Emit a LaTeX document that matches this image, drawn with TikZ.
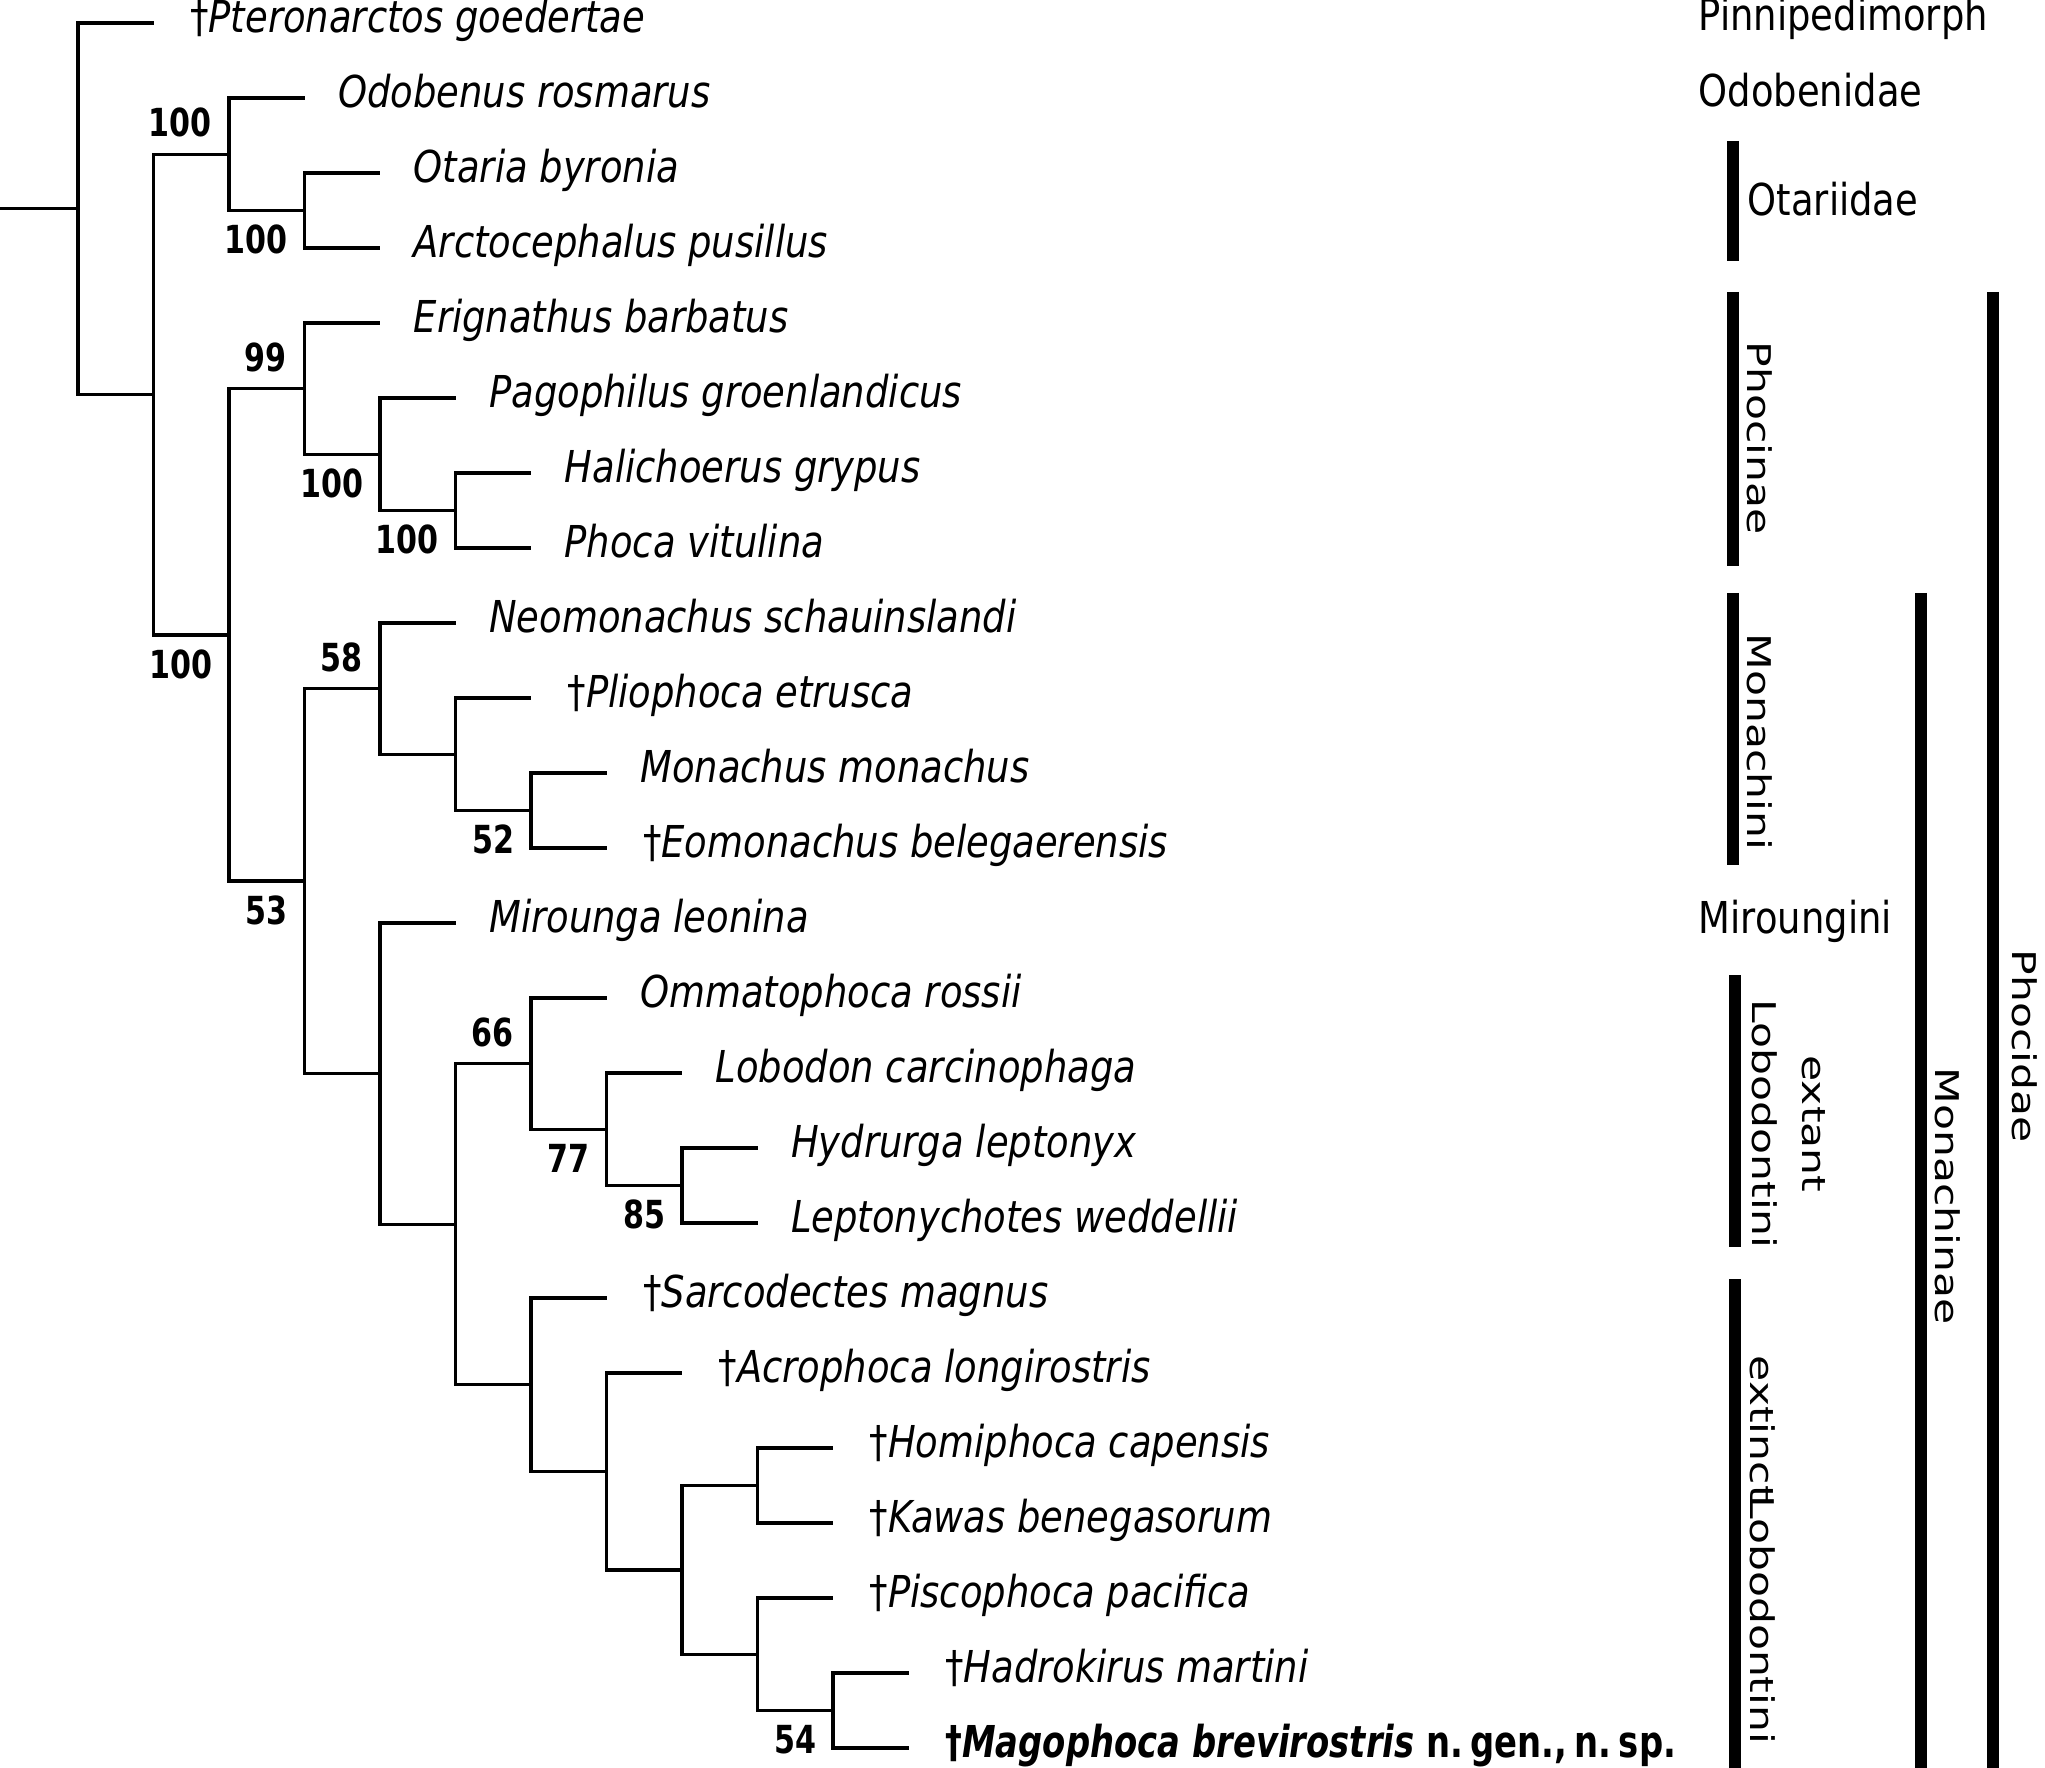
\documentclass[tikz,border=0pt]{standalone}
\usepackage{fontspec}
\setmainfont{DejaVu Sans}[FakeStretch=0.84]
\newfontfamily\cladefont{DejaVu Sans}[FakeStretch=1.30]
\newfontfamily\suppfont{DejaVu Sans}[FakeStretch=0.78]
\newfontfamily\newspfont{DejaVu Sans}[FakeStretch=0.77]
\usetikzlibrary{positioning}

\newcommand{\fossil}{{\upshape †}}

\tikzset{
  branch/.style={line width=0.95pt},
  taxon/.style={anchor=west, inner sep=0pt, font=\fontsize{12.5}{15}\selectfont\itshape,
    text height=1.6ex, text depth=0.6ex},
  supp/.style={inner sep=0pt, font=\suppfont\fontsize{11}{12}\selectfont\bfseries},
  cladebar/.style={line width=0.12cm},
  clade/.style={anchor=west, inner sep=0pt, font=\fontsize{12.5}{15}\selectfont,
    text height=1.6ex, text depth=0.6ex},
  vclade/.style={rotate=-90, inner sep=0pt, align=center,
    font=\cladefont\fontsize{9.3}{14.4}\selectfont}
}

\begin{document}
\begin{tikzpicture}
\useasboundingbox (0,0) rectangle (20.45,-17.68);

\begin{scope}[shift={(0.78cm,-0.23cm)}, x=0.755cm, y=-0.75cm]
  % tips
  \coordinate (t0) at (1,0);
  \coordinate (t1) at (3,1);
  \coordinate (t2) at (4,2);
  \coordinate (t3) at (4,3);
  \coordinate (t4) at (4,4);
  \coordinate (t5) at (5,5);
  \coordinate (t6) at (6,6);
  \coordinate (t7) at (6,7);
  \coordinate (t8) at (5,8);
  \coordinate (t9) at (6,9);
  \coordinate (t10) at (7,10);
  \coordinate (t11) at (7,11);
  \coordinate (t12) at (5,12);
  \coordinate (t13) at (7,13);
  \coordinate (t14) at (8,14);
  \coordinate (t15) at (9,15);
  \coordinate (t16) at (9,16);
  \coordinate (t17) at (7,17);
  \coordinate (t18) at (8,18);
  \coordinate (t19) at (10,19);
  \coordinate (t20) at (10,20);
  \coordinate (t21) at (10,21);
  \coordinate (t22) at (11,22);
  \coordinate (t23) at (11,23);
  % internal nodes
  \coordinate (base) at (-1.04,2.4771);
  \coordinate (n0) at (0,2.4771);
  \coordinate (nA) at (1,4.9541);
  \coordinate (nB) at (2,1.75);
  \coordinate (nOta) at (3,2.5);
  \coordinate (nPhocidae) at (2,8.1582);
  \coordinate (nPhocinae) at (3,4.875);
  \coordinate (nP1) at (4,5.75);
  \coordinate (nP2) at (5,6.5);
  \coordinate (nMonachinae) at (3,11.4414);
  \coordinate (nMonachini) at (4,8.875);
  \coordinate (nMo1) at (5,9.75);
  \coordinate (nMo2) at (6,10.5);
  \coordinate (nM2) at (4,14.0078);
  \coordinate (nLobo) at (5,16.0156);
  \coordinate (nExt) at (6,13.875);
  \coordinate (nEx1) at (7,14.75);
  \coordinate (nEx2) at (8,15.5);
  \coordinate (nExc) at (6,18.1563);
  \coordinate (nXc1) at (7,19.3125);
  \coordinate (nXc2) at (8,20.625);
  \coordinate (nXc3) at (9,19.5);
  \coordinate (nXc4) at (9,21.75);
  \coordinate (nXc5) at (10,22.5);

  % branches
  \draw[branch] (base) -- (n0)
    (n0) |- (t0) (n0) |- (nA)
    (nA) |- (nB) (nA) |- (nPhocidae)
    (nB) |- (t1) (nB) |- (nOta)
    (nOta) |- (t2) (nOta) |- (t3)
    (nPhocidae) |- (nPhocinae) (nPhocidae) |- (nMonachinae)
    (nPhocinae) |- (t4) (nPhocinae) |- (nP1)
    (nP1) |- (t5) (nP1) |- (nP2)
    (nP2) |- (t6) (nP2) |- (t7)
    (nMonachinae) |- (nMonachini) (nMonachinae) |- (nM2)
    (nMonachini) |- (t8) (nMonachini) |- (nMo1)
    (nMo1) |- (t9) (nMo1) |- (nMo2)
    (nMo2) |- (t10) (nMo2) |- (t11)
    (nM2) |- (t12) (nM2) |- (nLobo)
    (nLobo) |- (nExt) (nLobo) |- (nExc)
    (nExt) |- (t13) (nExt) |- (nEx1)
    (nEx1) |- (t14) (nEx1) |- (nEx2)
    (nEx2) |- (t15) (nEx2) |- (t16)
    (nExc) |- (t17) (nExc) |- (nXc1)
    (nXc1) |- (t18) (nXc1) |- (nXc2)
    (nXc2) |- (nXc3) (nXc2) |- (nXc4)
    (nXc3) |- (t19) (nXc3) |- (t20)
    (nXc4) |- (t21) (nXc4) |- (nXc5)
    (nXc5) |- (t22) (nXc5) |- (t23);

  % support values
  \node[supp, above left=0.16cm and 0.17cm of nB] {100};
  \node[supp, below left=0.14cm and 0.16cm of nOta] {100};
  \node[supp, above left=0.16cm and 0.17cm of nPhocinae] {99};
  \node[supp, below left=0.14cm and 0.16cm of nP1] {100};
  \node[supp, below left=0.14cm and 0.16cm of nP2] {100};
  \node[supp, below left=0.14cm and 0.16cm of nPhocidae] {100};
  \node[supp, above left=0.16cm and 0.17cm of nMonachini] {58};
  \node[supp, below left=0.14cm and 0.16cm of nMo2] {52};
  \node[supp, below left=0.14cm and 0.16cm of nMonachinae] {53};
  \node[supp, above left=0.16cm and 0.17cm of nExt] {66};
  \node[supp, below left=0.14cm and 0.16cm of nEx1] {77};
  \node[supp, below left=0.14cm and 0.16cm of nEx2] {85};
  \node[supp, below left=0.14cm and 0.16cm of nXc5] {54};

  % taxa
  \node[taxon, right=0.36cm of t0] {\fossil Pteronarctos goedertae};
  \node[taxon, right=0.33cm of t1] {Odobenus rosmarus};
  \node[taxon, right=0.33cm of t2] {Otaria byronia};
  \node[taxon, right=0.33cm of t3] {Arctocephalus pusillus};
  \node[taxon, right=0.33cm of t4] {Erignathus barbatus};
  \node[taxon, right=0.33cm of t5] {Pagophilus groenlandicus};
  \node[taxon, right=0.33cm of t6] {Halichoerus grypus};
  \node[taxon, right=0.33cm of t7] {Phoca vitulina};
  \node[taxon, right=0.33cm of t8] {Neomonachus schauinslandi};
  \node[taxon, right=0.36cm of t9] {\fossil Pliophoca etrusca};
  \node[taxon, right=0.33cm of t10] {Monachus monachus};
  \node[taxon, right=0.36cm of t11] {\fossil Eomonachus belegaerensis};
  \node[taxon, right=0.33cm of t12] {Mirounga leonina};
  \node[taxon, right=0.33cm of t13] {Ommatophoca rossii};
  \node[taxon, right=0.33cm of t14] {Lobodon carcinophaga};
  \node[taxon, right=0.33cm of t15] {Hydrurga leptonyx};
  \node[taxon, right=0.33cm of t16] {Leptonychotes weddellii};
  \node[taxon, right=0.36cm of t17] {\fossil Sarcodectes magnus};
  \node[taxon, right=0.36cm of t18] {\fossil Acrophoca longirostris};
  \node[taxon, right=0.36cm of t19] {\fossil Homiphoca capensis};
  \node[taxon, right=0.36cm of t20] {\fossil Kawas benegasorum};
  \node[taxon, right=0.36cm of t21] {\fossil Piscophoca pacifica};
  \node[taxon, right=0.36cm of t22] {\fossil Hadrokirus martini};
  \node[taxon, right=0.36cm of t23] {\newspfont\bfseries\fossil Magophoca brevirostris \upshape n.\,gen.,\,n.\,sp.};
\end{scope}

% clade bars
\draw[cladebar] (17.33,-1.41) -- (17.33,-2.61);
\draw[cladebar] (17.33,-2.92) -- (17.33,-5.66);
\draw[cladebar] (17.33,-5.93) -- (17.33,-8.65);
\draw[cladebar] (17.35,-9.75) -- (17.35,-12.47);
\draw[cladebar] (17.35,-12.79) -- (17.35,-17.68);
\draw[cladebar] (19.21,-5.93) -- (19.21,-17.68);
\draw[cladebar] (19.93,-2.92) -- (19.93,-17.68);

% clade names
\node[clade] (pinni) at (16.98,-0.21) {Pinnipedimorph};
\node[clade] (odob) at (16.98,-0.97) {Odobenidae};
\node[clade] (otar) at (17.47,-2.06) {Otariidae};
\node[clade] (mirou) at (16.98,-9.24) {Miroungini};
\node[vclade, anchor=south] (phocin) at (17.46,-4.38) {Phocinae};
\node[vclade, anchor=south] (monachi) at (17.46,-7.42) {Monachini};
\node[vclade, anchor=south] (extant) at (17.51,-11.24) {extant\\Lobodontini};
\node[vclade, anchor=south west] (extinct) at (17.49,-13.55) {extinct\kern-0.2em Lobodontini};
\node[vclade, anchor=south] (monachin) at (19.34,-11.96) {Monachinae};
\node[vclade, anchor=south] (phocid) at (20.11,-10.46) {Phocidae};
\end{tikzpicture}
\end{document}
